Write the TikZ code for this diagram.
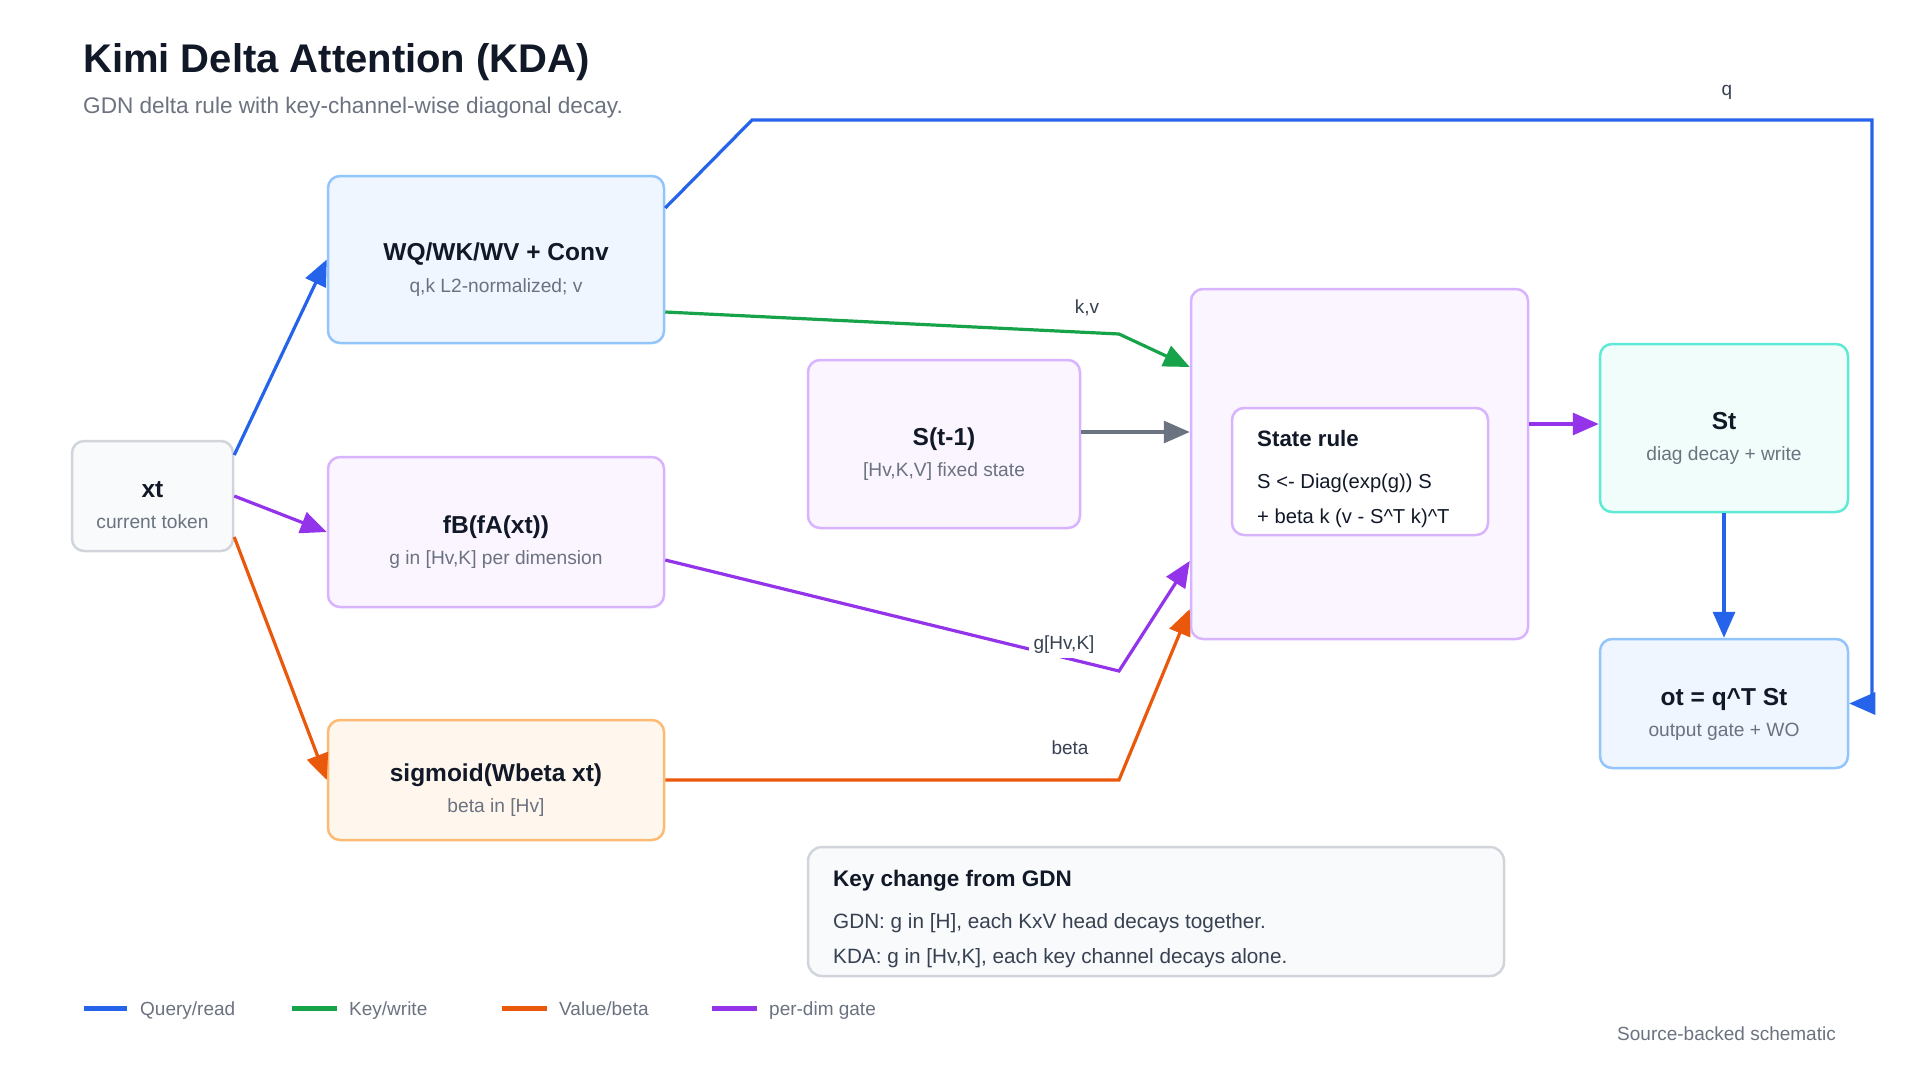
\documentclass[tikz,border=0pt]{standalone}
\usepackage{fontspec}
\setmainfont{Liberation Sans}
\usetikzlibrary{arrows.meta}
\definecolor{blueL}{HTML}{2563EB}
\definecolor{greenL}{HTML}{16A34A}
\definecolor{orangeL}{HTML}{EA580C}
\definecolor{purpleL}{HTML}{9333EA}
\definecolor{grayL}{HTML}{6B7280}
\definecolor{ink}{HTML}{111827}
\definecolor{muted}{HTML}{6B7280}
\definecolor{bodyc}{HTML}{374151}
\definecolor{blueF}{HTML}{EFF6FF}
\definecolor{blueB}{HTML}{93C5FD}
\definecolor{purpleF}{HTML}{FAF5FF}
\definecolor{purpleB}{HTML}{D8B4FE}
\definecolor{orangeF}{HTML}{FFF7ED}
\definecolor{orangeB}{HTML}{FDBA74}
\definecolor{tealF}{HTML}{F0FDFA}
\definecolor{tealB}{HTML}{5EEAD4}
\definecolor{grayF}{HTML}{F8FAFC}
\definecolor{grayB}{HTML}{D1D5DB}
\begin{document}
\begin{tikzpicture}[x=1pt,y=-1pt,
  box/.style={draw, rounded corners=12pt, line width=2.5pt, inner sep=0pt},
  ttl/.style={anchor=base, inner sep=0pt, font=\fontsize{24.5}{28}\selectfont\bfseries, text=ink},
  sub/.style={anchor=base, inner sep=0pt, font=\fontsize{19.2}{23}\selectfont, text=muted},
  lbl/.style={anchor=base, inner sep=0pt, font=\fontsize{19}{23}\selectfont, text=bodyc},
  conn/.style={line width=3.2pt, -{Triangle[length=26pt,width=22pt]}},
  legline/.style={line width=5pt},
  legtxt/.style={anchor=base west, inner sep=0pt, font=\fontsize{19}{23}\selectfont, text=muted}]
\useasboundingbox (0,0) rectangle (1920,1080);
\fill[white] (0,0) rectangle (1920,1080);

% title
\node[anchor=base west, inner sep=0pt, font=\fontsize{40}{45}\selectfont\bfseries, text=ink] (title) at (83,72) {Kimi Delta Attention (KDA)};
\node[anchor=base west, inner sep=0pt, font=\fontsize{22.6}{26}\selectfont, text=muted] (subtitle) at (83,113) {GDN delta rule with key-channel-wise diagonal decay.};

% boxes
\node[box, draw=grayB, fill=grayF, minimum width=161pt, minimum height=110pt] (xt) at (152.5,496) {};
\node[box, draw=blueB, fill=blueF, minimum width=336pt, minimum height=167pt] (wq) at (496,259.5) {};
\node[box, draw=purpleB, fill=purpleF, minimum width=336pt, minimum height=150pt] (fb) at (496,532) {};
\node[box, draw=orangeB, fill=orangeF, minimum width=336pt, minimum height=120pt] (sig) at (496,780) {};
\node[box, draw=purpleB, fill=purpleF, minimum width=272pt, minimum height=168pt] (s1) at (944,444) {};
\node[box, draw=purpleB, fill=purpleF, minimum width=337pt, minimum height=350pt] (state) at (1359.5,464) {};
\node[box, draw=purpleB, fill=white, minimum width=256pt, minimum height=127pt] (rule) at (1360,471.5) {};
\node[box, draw=tealB, fill=tealF, minimum width=248pt, minimum height=168pt] (st) at (1724,428) {};
\node[box, draw=blueB, fill=blueF, minimum width=248pt, minimum height=129pt] (ot) at (1724,703.5) {};
\node[box, draw=grayB, fill=grayF, rounded corners=14pt, minimum width=696pt, minimum height=129pt] (key) at (1156,911.5) {};

% box texts
\node[ttl] (xtT) at (152.5,497) {xt};
\node[sub] (xtS) at (152.5,528) {current token};
\node[ttl] (wqT) at (496,260) {WQ/WK/WV + Conv};
\node[sub] (wqS) at (496,292) {q,k L2-normalized; v};
\node[ttl] (fbT) at (496,533) {fB(fA(xt))};
\node[sub] (fbS) at (496,564) {g in [Hv,K] per dimension};
\node[ttl] (sigT) at (496,781) {sigmoid(Wbeta xt)};
\node[sub] (sigS) at (496,812) {beta in [Hv]};
\node[ttl] (s1T) at (944,445) {S(t-1)};
\node[sub] (s1S) at (944,476) {[Hv,K,V] fixed state};
\node[anchor=base west, inner sep=0pt, font=\fontsize{22.3}{26}\selectfont\bfseries, text=ink] (ruleT) at (1257,446) {State rule};
\node[anchor=base west, inner sep=0pt, font=\fontsize{20.2}{24}\selectfont, text=ink] (ruleA) at (1257,488) {S <- Diag(exp(g)) S};
\node[anchor=base west, inner sep=0pt, font=\fontsize{20.2}{24}\selectfont, text=ink] (ruleB) at (1257,523) {+ beta k (v - S\textasciicircum T k)\textasciicircum T};
\node[ttl] (stT) at (1724,429) {St};
\node[sub] (stS) at (1724,460) {diag decay + write};
\node[ttl] (otT) at (1724,705) {ot = q\textasciicircum T St};
\node[sub] (otS) at (1724,736) {output gate + WO};
\node[anchor=base west, inner sep=0pt, font=\fontsize{22.5}{26}\selectfont\bfseries, text=ink] (keyT) at (833,886) {Key change from GDN};
\node[anchor=base west, inner sep=0pt, font=\fontsize{20.7}{24}\selectfont, text=bodyc] (keyA) at (833,928) {GDN: g in [H], each KxV head decays together.};
\node[anchor=base west, inner sep=0pt, font=\fontsize{20.7}{24}\selectfont, text=bodyc] (keyB) at (833,963) {KDA: g in [Hv,K], each key channel decays alone.};

% connectors
\draw[conn, blueL] ([yshift=41pt]xt.east) -- (wq.west);
\draw[conn, purpleL] (xt.east) -- (fb.west);
\draw[conn, orangeL] ([yshift=-41pt]xt.east) -- (sig.west);

\coordinate (q1) at (752,120);
\coordinate (q2) at (1872,120);
\draw[conn, blueL] ([yshift=51.5pt]wq.east) -- (q1) -- (q2) -- (q2 |- ot.east) -- (ot.east);
\node[lbl] (qL) at (1727,95) {q};

\coordinate (kvb) at (1119,334);
\draw[conn, greenL] ([yshift=-52.5pt]wq.east) -- (kvb) -- ([yshift=97pt]state.west);
\node[lbl] (kvL) at (1087,313) {k,v};

\coordinate (g0) at ([yshift=12pt]s1.east);
\draw[conn, grayL] (g0) -- (g0 -| state.west);

\coordinate (gb) at (1119,671);
\draw[conn, purpleL] ([yshift=-28pt]fb.east) -- (gb) -- ([yshift=-97pt]state.west);
\node[lbl, fill=white, inner sep=5pt] (gL) at (1064,649) {g[Hv,K]};

\coordinate (bb) at (1119,780);
\draw[conn, orangeL] (sig.east) -- (bb) -- ([yshift=-145pt]state.west);
\node[lbl] (bL) at (1070,754) {beta};

\coordinate (p0) at ([yshift=40pt]state.east);
\draw[conn, purpleL] (p0) -- (p0 -| st.west);

\draw[conn, blueL] (st.south) -- (ot.north);

% legend
\coordinate (l1a) at (84,1008); \coordinate (l1b) at (127,1008);
\coordinate (l2a) at (292,1008); \coordinate (l2b) at (337,1008);
\coordinate (l3a) at (502,1008); \coordinate (l3b) at (547,1008);
\coordinate (l4a) at (712,1008); \coordinate (l4b) at (757,1008);
\draw[legline, blueL] (l1a) -- (l1b);
\draw[legline, greenL] (l2a) -- (l2b);
\draw[legline, orangeL] (l3a) -- (l3b);
\draw[legline, purpleL] (l4a) -- (l4b);
\node[legtxt] (lt1) at (140,1015) {Query/read};
\node[legtxt] (lt2) at (349,1015) {Key/write};
\node[legtxt] (lt3) at (559,1015) {Value/beta};
\node[legtxt] (lt4) at (769,1015) {per-dim gate};
\node[anchor=base east, inner sep=0pt, font=\fontsize{19}{23}\selectfont, text=muted] (src) at (1836,1040) {Source-backed schematic};
\end{tikzpicture}
\end{document}
